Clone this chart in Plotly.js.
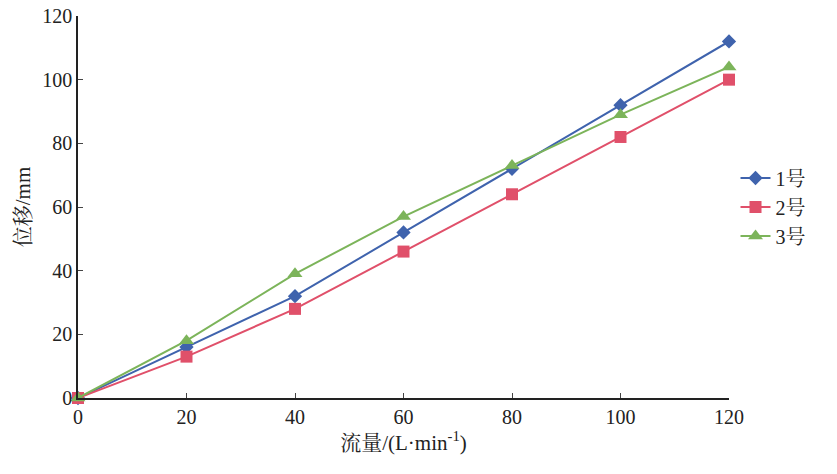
<!DOCTYPE html>
<html><head><meta charset="utf-8"><script src="https://cdn.plot.ly/plotly-3.0.1.min.js"></script></head>
<body style="margin:0"><div id="c" style="width:837px;height:474px"></div>
<script>
const flow=[0,20,40,60,80,100,120];
const s1=[0,16,32,52,72,92,112];
const s2=[0,13,28,46,64,82,100];
const s3=[0,18,39,57,73,89,104];
const names=['1号','2号','3号'];
const F='Liberation Serif, Noto Serif CJK SC, Noto Sans CJK SC, serif';
const mk=(y,n,c,s,sz)=>({x:flow,y:y,name:n,mode:'lines+markers',cliponaxis:false,line:{color:c,width:2},marker:{symbol:s,size:sz,color:c}});
Plotly.newPlot('c',[mk(s1,names[0],'#3f63ad','diamond',11),mk(s2,names[1],'#e0506a','square',12),mk(s3,names[2],'#7cb45a','triangle-up',13)],{
width:837,height:474,margin:{l:78,r:108,t:16,b:76},paper_bgcolor:'#fff',plot_bgcolor:'#fff',
font:{family:F,size:20,color:'#222'},
xaxis:{range:[0,120],dtick:20,showline:true,linecolor:'#222',linewidth:1.5,ticks:'inside',ticklen:5,showgrid:false,zeroline:false,
 title:{text:'流量/(L·min<sup>-1</sup>)',font:{size:21},standoff:4}},
yaxis:{range:[0,120],dtick:20,showline:true,linecolor:'#222',linewidth:1.5,ticks:'inside',ticklen:5,showgrid:false,zeroline:false,
 title:{text:'位移/mm',font:{size:21},standoff:6}},
legend:{x:1.01,y:0.5,yanchor:'middle',font:{size:20},tracegroupgap:0}
},{displayModeBar:false});
</script></body></html>
